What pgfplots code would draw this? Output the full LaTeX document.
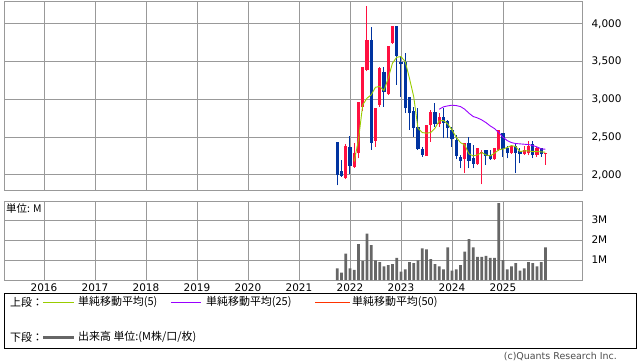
\documentclass[border=0pt]{standalone}
\usepackage{pgfplots}
\pgfplotsset{compat=1.18}
\usepackage{pgfplotstable}
\usepackage{fontspec}
\setmainfont{DejaVu Sans}
\newfontfamily\jp{Noto Sans CJK JP}
\definecolor{upred}{HTML}{FF1040}
\definecolor{dnblue}{HTML}{0033A0}
\definecolor{ma5}{HTML}{99CC00}
\definecolor{ma25}{HTML}{9900FF}
\definecolor{ma50}{HTML}{FF3300}
\definecolor{gridgray}{HTML}{999999}
\definecolor{volgray}{HTML}{666666}

% m = months since Jan 2016
\pgfplotstableread{
m O H L C
71 1956 2410 1943 2389
73 2110 2420 2097 2287
74 2287 2971 2220 2971
75 2905 3430 2852 3430
76 3390 4243 3370 3780
78 2450 2892 2375 2892
79 2927 3435 2896 3421
81 3068 3708 3060 3708
82 3753 3978 3740 3978
90 2256 2662 2256 2662
91 2662 2861 2441 2839
93 2675 2817 2640 2764
99 2207 2420 2022 2420
102 2146 2353 2132 2353
103 2287 2331 1876 2309
106 2207 2353 2200 2353
107 2331 2596 2322 2596
110 2287 2397 2280 2389
113 2278 2384 2265 2331
114 2287 2450 2260 2389
116 2265 2375 2243 2353
118 2278 2292 2132 2292
}\upT

\pgfplotstableread{
m O H L C
69 2440 2440 1860 2000
70 2053 2199 1978 1991
72 2375 2516 2009 2124
77 3788 3965 2331 2428
80 3369 3435 2905 3104
83 3978 3978 3192 3576
84 3492 3560 3035 3470
85 3500 3611 2817 2883
86 3037 3037 2595 2817
87 2848 2905 2508 2618
88 2640 2883 2331 2340
89 2340 2375 2243 2265
92 2830 2950 2640 2675
94 2764 2883 2486 2693
95 2720 2728 2486 2618
96 2596 2640 2375 2472
97 2463 2530 2207 2252
98 2243 2265 2088 2185
100 2428 2508 2088 2185
101 2220 2397 2088 2146
104 2331 2331 2130 2252
105 2265 2331 2200 2207
108 2560 2560 2243 2340
109 2353 2384 2220 2287
111 2389 2420 2022 2287
112 2322 2353 2154 2278
115 2406 2455 2220 2265
117 2362 2362 2240 2278
}\dnT

\pgfplotstableread{
m v
73 2177
74 2464
75 2927
76 3015
77 3060
78 3161
79 3170
80 3117
81 3280
82 3479
83 3558
84 3567
85 3501
86 3280
87 3037
88 2618
89 2561
90 2552
91 2561
92 2618
93 2715
94 2720
95 2675
96 2596
97 2499
98 2428
99 2397
100 2278
101 2252
102 2265
103 2296
104 2265
105 2252
106 2287
107 2331
108 2344
109 2362
110 2389
111 2375
112 2309
113 2318
114 2318
115 2309
116 2309
117 2305
118 2300
}\maA

\pgfplotstableread{
m v
93 2870
94 2901
95 2914
96 2923
97 2918
98 2905
99 2870
100 2817
101 2773
102 2755
103 2728
104 2693
105 2649
106 2614
107 2561
108 2499
109 2455
110 2428
111 2415
112 2411
113 2406
114 2402
115 2389
116 2371
117 2344
118 2340
}\maB

\pgfplotstableread{
m v
69 0.58
70 0.37
71 1.32
72 0.58
73 0.51
74 1.79
75 0.95
76 2.32
77 1.74
78 0.98
79 0.89
80 0.68
81 0.74
82 0.79
83 1.11
84 0.42
85 0.53
86 0.89
87 0.84
88 0.98
89 1.58
90 1.53
91 1.05
92 0.79
93 0.68
94 0.53
95 1.63
96 0.47
97 0.53
98 0.74
99 1.42
100 2.05
101 1.63
102 1.16
103 1.16
104 1.21
105 1.11
106 1.11
107 3.84
108 1.00
109 0.53
110 0.68
111 0.84
112 0.47
113 0.58
114 0.89
115 0.84
116 0.68
117 0.89
118 1.63
}\volT

\pgfplotsset{
  base/.style={
    scale only axis, width=578bp,
    xmin=-9.4, xmax=126.6,
    xtick={0,12,...,108},
    grid=major,
    major grid style={draw=gridgray, line width=0.9bp},
    axis line style={draw=gridgray, line width=0.9bp},
    major tick length=0pt,
    tick style={draw=none},
    yticklabel pos=right,
    tick label style={font=\fontsize{10.5}{12}\selectfont},
    yticklabel style={anchor=west, xshift=6bp},
    /pgf/number format/assume math mode=true,
    clip=true,
  },
}

\begin{document}
\begin{tikzpicture}
\useasboundingbox (0,0) rectangle (638bp,-362bp);
% upper panel
\begin{axis}[base, at={(4bp,-1bp)}, anchor=north west, height=189bp,
  ymin=1800, ymax=4303, ytick={2000,2500,...,4000},
  xticklabels={},
  yticklabel style={/pgf/number format/.cd, 1000 sep={,}}]
% wicks
\addplot[draw=none, forget plot, error bars/.cd, y dir=plus, y explicit, error mark=none,
  error bar style={draw=upred, line width=1bp}]
  table[x=m, y=L, y error expr=\thisrow{H}-\thisrow{L}] {\upT};
\addplot[draw=none, forget plot, error bars/.cd, y dir=plus, y explicit, error mark=none,
  error bar style={draw=dnblue, line width=1bp}]
  table[x=m, y=L, y error expr=\thisrow{H}-\thisrow{L}] {\dnT};
% bodies
\addplot[draw=none, forget plot, error bars/.cd, y dir=plus, y explicit, error mark=none,
  error bar style={draw=upred, line width=3.4bp}]
  table[x=m, y=O, y error expr=\thisrow{C}-\thisrow{O}] {\upT};
\addplot[draw=none, forget plot, error bars/.cd, y dir=plus, y explicit, error mark=none,
  error bar style={draw=dnblue, line width=3.4bp}]
  table[x=m, y=C, y error expr=\thisrow{O}-\thisrow{C}] {\dnT};
% moving averages
\addplot[ma5, line width=0.9bp, mark=none] table[x=m, y=v] {\maA};
\addplot[ma25, line width=0.9bp, mark=none] table[x=m, y=v] {\maB};
\end{axis}
% lower panel
\begin{axis}[base, at={(4bp,-201bp)}, anchor=north west, height=79bp,
  ymin=0, ymax=3.95, ytick={1,2,3}, yticklabels={1M,2M,3M},
  xticklabels={2016,2017,2018,2019,2020,2021,2022,2023,2024,2025},
  xticklabel style={yshift=-0.5bp}]
\addplot[ybar, bar width=2.7bp, fill=volgray, draw=none] table[x=m, y=v] {\volT};
\end{axis}
\node[anchor=west, inner sep=0pt] at (6bp,-209bp) {\jp\fontsize{10.5}{12}\selectfont 単位: M};
% legend
\draw[black, line width=0.9bp] (4bp,-293bp) rectangle (636bp,-348bp);
\begin{scope}[every node/.style={anchor=west, inner sep=0pt, font=\jp\fontsize{11}{13}\selectfont}]
\node at (10bp,-302bp) {上段：};
\draw[ma5, line width=1bp] (43bp,-302bp) -- (74bp,-302bp);
\node at (78bp,-302bp) {単純移動平均(5)};
\draw[ma25, line width=1bp] (171bp,-302bp) -- (201bp,-302bp);
\node at (206bp,-302bp) {単純移動平均(25)};
\draw[ma50, line width=1bp] (315bp,-302bp) -- (350bp,-302bp);
\node at (352bp,-302bp) {単純移動平均(50)};
\node at (10bp,-337bp) {下段：};
\draw[volgray, line width=3bp] (43bp,-337bp) -- (74bp,-337bp);
\node at (78bp,-337bp) {出来高 単位:(M株/口/枚)};
\end{scope}
\node[anchor=east, inner sep=0pt, text=black!70, font=\fontsize{9.5}{11}\selectfont] at (617bp,-357bp) {(c)Quants Research Inc.};
\end{tikzpicture}
\end{document}
